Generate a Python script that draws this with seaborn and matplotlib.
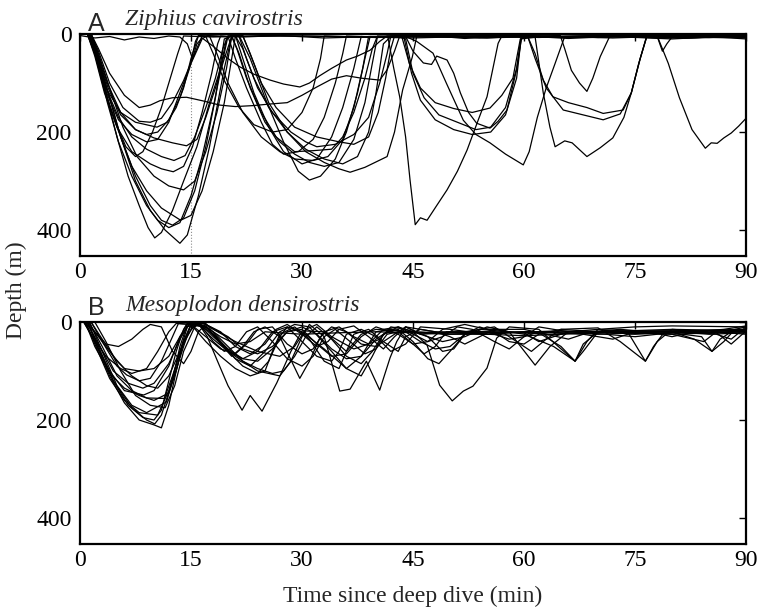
import pandas as pd
import matplotlib
matplotlib.use("Agg")
import matplotlib.pyplot as plt
import seaborn as sns

# Dive profiles: (minutes since deep dive, depth in m)
# --- A: Ziphius cavirostris ---
zc_01 = [(1.3, 0), (2.2, 40), (3.5, 120), (5, 210), (6.5, 290), (8, 350), (9.2, 395), (10.1, 416), (11, 405),
         (12.5, 360), (14, 300), (15.8, 230), (17.5, 140), (18.9, 75), (19.8, 10), (20.5, 2), (21.5, 3), (23, 50),
         (25, 130), (27.5, 220), (29.5, 280), (31, 298), (32.5, 290), (34.5, 255), (36, 200), (37.5, 120),
         (38.5, 50), (39.2, 5), (42, 6), (48, 3), (55, 8), (60, 4), (66, 9), (72, 5), (80, 10), (85, 6), (90, 8)]
zc_02 = [(1.5, 0), (2.5, 50), (4, 130), (5.5, 210), (7.5, 300), (9.5, 360), (11.5, 400), (13.5, 427), (14.5, 410),
         (16, 330), (17.5, 230), (18.5, 150), (19.5, 70), (20.5, 5), (22, 3), (23.5, 60), (25.5, 140), (28, 200),
         (30.5, 240), (33, 262), (35, 275), (36.5, 282), (38.5, 272), (41.5, 250), (42.5, 200), (43.6, 114),
         (44.9, 47), (45.5, 5), (48, 4), (52, 9), (56, 5), (61.5, 6), (62.6, 120), (63.5, 190), (64.2, 230),
         (65.5, 218), (66.5, 222), (68.5, 250), (70.3, 232), (72, 212), (73.5, 170), (74.5, 120), (75.7, 50),
         (76.6, 4), (80, 6), (85, 3), (90, 5)]
zc_03 = [(1.2, 0), (2.3, 50), (3.7, 140), (5.2, 220), (7, 290), (9, 350), (10.5, 380), (12, 395), (13.5, 385),
         (15, 330), (16.5, 250), (18, 150), (19.2, 60), (20, 4), (21, 3), (22, 50), (23.5, 120), (25.5, 190),
         (27.5, 240), (30, 265), (32, 255), (34, 210), (35.5, 150), (37, 70), (38, 5), (40, 7), (43.5, 6),
         (44.5, 60), (46, 110), (48, 140), (50.5, 152), (53, 160), (55.4, 151), (57, 125), (58.5, 90), (59.5, 10),
         (62, 6), (70, 3), (78, 8), (84, 5), (90, 6)]
zc_04 = [(1.4, 0), (2.4, 45), (3.8, 120), (5.5, 210), (7.5, 290), (9.5, 350), (11, 380), (12.5, 390), (14, 375),
         (15.5, 320), (17, 230), (18.3, 130), (19.5, 10), (20.5, 4), (21.5, 40), (23, 110), (25, 180), (27, 220),
         (29, 245), (31, 262), (33, 270), (35, 262), (37, 215), (38.5, 140), (39.5, 60), (40.2, 5), (43, 4),
         (44, 10), (45, 80), (46.5, 130), (48.5, 165), (51, 180), (53.5, 195), (55.5, 190), (57.5, 150), (59, 70),
         (59.6, 8), (60.5, 5), (61.5, 40), (62.6, 94), (63.9, 128), (66, 140), (68.5, 150), (70.7, 162),
         (73.4, 155), (74.5, 120), (75.7, 50), (76.6, 3), (80, 4), (88, 8), (90, 10)]
zc_05 = [(1.0, 0), (2, 40), (3.5, 120), (5, 190), (7, 270), (9, 320), (11, 355), (13.6, 380), (15, 370),
         (16.5, 320), (18, 240), (19.5, 140), (20.5, 50), (21, 4), (22, 30), (23.5, 90), (25.5, 150), (28, 200),
         (30.5, 235), (33, 255), (35.5, 265), (37.5, 250), (39, 200), (40, 120), (41, 20), (42, 5), (43.8, 8),
         (44.8, 80), (46, 135), (48, 175), (50.5, 195), (53, 205), (55.5, 200), (57.5, 165), (59, 90), (59.6, 10),
         (60.5, 5), (61.5, 50), (63, 110), (65.3, 155), (68, 165), (70.7, 175), (73, 163), (74.5, 120),
         (75.5, 60), (76.6, 5), (82, 8), (90, 4)]
zc_06 = [(1.5, 0), (2.5, 40), (4, 110), (5.8, 190), (7.7, 250), (10, 290), (12, 310), (14, 318), (15.5, 300),
         (17, 240), (18.5, 160), (19.8, 70), (20.5, 5), (21.2, 30), (22.5, 90), (24.5, 160), (26.5, 210),
         (29, 240), (31.5, 238), (34, 235), (35.5, 210), (37, 160), (38.5, 90), (39.5, 30), (40.2, 4), (41.6, 6),
         (42.4, 70), (43.2, 128), (44, 210), (44.6, 298), (45.3, 389), (46, 375), (46.9, 380), (48.2, 350),
         (49.6, 318), (51, 280), (52.3, 237), (53.7, 180), (55, 128), (55.8, 70), (56.5, 19), (57, 4), (62, 6),
         (70, 4), (76, 6), (78, 4), (79.5, 60), (81, 130), (82.7, 195), (84.5, 233), (85.3, 222), (86.1, 223),
         (87, 212), (88, 202), (89, 188), (90, 172)]
zc_07 = [(1, 0), (2, 45), (3.3, 120), (5, 190), (7, 240), (9.5, 265), (11, 275), (12.6, 281), (14, 270),
         (15.2, 230), (16.5, 160), (17.8, 80), (18.6, 20), (19, 4), (20, 5), (21, 50), (22.5, 110), (24.5, 180),
         (26, 225), (27.5, 245), (29.5, 240), (31.5, 215), (33, 170), (34.5, 100), (35.5, 40), (36, 4), (40, 6),
         (44, 5), (45, 35), (46.4, 59), (47.5, 62), (48.2, 45), (49.6, 53), (50.5, 80), (51.4, 120), (52.5, 160),
         (53.6, 182), (55.4, 192), (56.5, 178), (57.7, 155), (59, 73), (59.7, 5), (62, 4), (64.9, 3), (65.5, 30),
         (66.4, 74), (67.5, 100), (68.5, 117), (69.3, 90), (70.3, 46), (71.6, 4), (78, 6), (84, 3), (90, 5)]
zc_08 = [(1.2, 0), (2.2, 40), (3.5, 110), (5.2, 170), (7, 210), (9, 235), (11, 250), (12.7, 258), (14.2, 248),
         (15.5, 210), (17, 150), (18.3, 90), (19.3, 30), (20, 4), (21.5, 5), (22.5, 50), (24, 110), (26, 160),
         (28.5, 200), (30.5, 220), (32, 230), (34.5, 225), (37, 205), (39, 170), (40.5, 100), (41.5, 40), (42, 4),
         (44, 5), (45.5, 15), (47.7, 39), (49.5, 100), (51.8, 176), (53.5, 205), (55.4, 222), (57.5, 245),
         (59.9, 267), (60.7, 240), (61.8, 170), (63, 110), (64.2, 60), (65.5, 5), (70, 7), (75, 4), (82, 8), (90, 6)]
zc_09 = [(1.3, 0), (2.3, 35), (3.7, 100), (5.5, 160), (7.5, 195), (10, 212), (12.5, 222), (14.4, 228),
         (15.8, 215), (17, 170), (18.3, 110), (19.5, 50), (20.5, 5), (22, 4), (23, 40), (24.5, 100), (26.5, 150),
         (29, 190), (32, 210), (35, 220), (37, 225), (39, 210), (40.3, 160), (41.3, 90), (42, 30), (42.5, 4),
         (50, 6), (58, 3), (66, 7), (72, 4), (78, 5), (78.7, 35), (79.3, 20), (80, 6), (90, 4)]
zc_10 = [(1, 0), (2, 40), (3.5, 110), (5.5, 160), (7.5, 180), (10.4, 190), (11.8, 180), (13, 150), (14, 110),
         (15, 50), (16, 4), (17, 5), (18, 40), (19.5, 95), (21.5, 150), (23.5, 185), (26, 200), (28, 195),
         (30, 160), (31.5, 110), (32.5, 50), (33, 4), (38, 6), (46, 3), (54, 8), (63, 5), (70, 6), (80, 3), (90, 7)]
zc_11 = [(1.5, 0), (2.5, 35), (4, 100), (5.8, 150), (8, 178), (9.5, 180), (11, 172), (12.5, 140), (14, 95),
         (15.5, 40), (16.5, 4), (19, 5), (22, 6), (27, 3), (33, 8), (40, 5), (45, 3), (52, 7), (60, 4), (67, 6),
         (75, 3), (82, 7), (90, 5)]
zc_12 = [(1.5, 0), (2.5, 30), (4, 80), (6, 125), (8, 150), (9.5, 145), (10.8, 136), (12.5, 130), (14.4, 129),
         (16.5, 136), (18.9, 145), (21, 148), (23.4, 146), (25.5, 143), (28, 140), (30, 125), (32, 108), (34, 92),
         (36, 85), (38, 90), (40.5, 94), (41.5, 73), (42.5, 35), (43.2, 4), (48, 6), (56, 3), (64, 5), (72, 8),
         (80, 4), (90, 6)]
zc_13 = [(1.2, 0), (2.2, 45), (3.6, 120), (5.2, 175), (7, 205), (9, 220), (10.5, 215), (12, 180), (13.5, 120),
         (15, 60), (16.5, 10), (17.2, 3), (20, 5), (30, 4), (40, 7), (50, 3), (60, 6), (70, 4), (80, 8), (90, 5)]
zc_14 = [(1.1, 0), (2, 40), (3.2, 110), (4.8, 180), (6.2, 230), (7.5, 250), (8.5, 240), (9.8, 200), (11, 150),
         (12.2, 90), (13.2, 40), (14, 4), (18, 6), (25, 3), (35, 5), (45, 8), (55, 4), (65, 6), (75, 3), (85, 7),
         (90, 5)]
zc_15 = [(0, 3), (2, 8), (4, 5), (6, 12), (8, 6), (10, 9), (12, 4), (13.5, 6), (14.5, 20), (15.2, 50),
         (15.8, 20), (16.5, 8), (18, 25), (20, 50), (21.6, 67), (23.5, 82), (25.7, 94), (27.5, 102), (29.7, 108),
         (31, 100), (32.4, 85), (34, 70), (36, 53), (37.5, 45), (39.2, 33), (40.5, 15), (41.5, 4), (50, 5),
         (60, 3), (70, 6), (80, 4), (90, 3)]
zc_16 = [(1.3, 0), (2.3, 40), (3.8, 110), (5.5, 165), (7.5, 195), (9, 205), (10.5, 200), (12, 175), (13.5, 130),
         (14.8, 70), (15.6, 15), (16, 3), (17.5, 4), (18.5, 40), (20, 100), (22, 160), (24.5, 210), (27, 240),
         (29, 255), (31.5, 258), (33.5, 250), (35.5, 215), (37, 150), (38.2, 70), (39, 5), (45, 6), (55, 4),
         (62, 7), (70, 3), (80, 6), (90, 4)]

# --- B: Mesoplodon densirostris ---
md_01 = [(0.5, 0), (2, 40), (4, 110), (6, 165), (8, 200), (10, 210), (11, 216), (12, 170), (13, 100), (14, 40),
         (15, 5), (17, 3), (19, 40), (21, 75), (23, 90), (25, 60), (27, 20), (29, 5), (31, 10), (34, 60), (36, 95),
         (38, 70), (40, 20), (42, 15), (44, 20), (50, 22), (55, 25), (60, 20), (70, 20), (80, 18), (90, 15)]
md_02 = [(1, 0), (2.5, 50), (4.5, 120), (7, 175), (9, 200), (10.1, 208), (11, 190), (12.5, 120), (14, 50),
         (15, 5), (16, 3), (17.2, 30), (18.5, 77), (20, 130), (21.9, 180), (23, 150), (24.6, 182), (26.6, 124),
         (28.5, 60), (30, 18), (33, 20), (36, 60), (38, 25), (40, 15), (45, 20), (50, 25), (55, 22), (61, 20),
         (65, 18), (70, 22), (75, 20), (80, 20), (85, 18), (90, 20)]
md_03 = [(0.8, 0), (2, 45), (4, 115), (6, 160), (8, 185), (10.5, 190), (12, 140), (13.5, 60), (14.5, 10),
         (16, 0), (18, 30), (21, 70), (24, 100), (27, 110), (28.5, 80), (30, 30), (31, 5), (33, 30), (35.1, 141),
         (36.5, 137), (38.7, 80), (40.5, 139), (41.9, 73), (42.8, 40), (44, 10), (46, 25), (49, 40), (52, 30),
         (55, 10), (58, 20), (61.5, 88), (63.5, 50), (66, 20), (70, 15), (75, 10), (80, 8), (90, 10)]
md_04 = [(1.2, 0), (3, 50), (5, 110), (7, 140), (9, 155), (11.4, 156), (12.5, 110), (14, 40), (15.5, 5),
         (17, 10), (20, 60), (22, 90), (24, 105), (25.5, 80), (27, 30), (28, 10), (30, 20), (33, 55), (36, 95),
         (38, 110), (39.5, 70), (41, 25), (43, 10), (45, 20), (46.9, 47), (48.6, 129), (50.3, 161), (51.8, 141),
         (53.1, 131), (55, 94), (56.3, 33), (58, 10), (62, 15), (66.9, 80), (68, 60), (70, 20), (74, 20),
         (76.4, 80), (78, 40), (80, 15), (85, 20), (90, 15)]
md_05 = [(0.6, 0), (2, 40), (4, 100), (6, 140), (8.6, 149), (10, 140), (12, 90), (13.5, 30), (14.5, 3), (16, 5),
         (18, 25), (20, 55), (22, 75), (24, 60), (26, 20), (28, 10), (30, 40), (32, 70), (34, 80), (35, 60),
         (36, 25), (38, 15), (40, 30), (42, 60), (44, 45), (46, 10), (50, 15), (55, 25), (60, 28), (65, 25),
         (70, 22), (80, 20), (83, 35), (85.4, 60), (87, 40), (88.5, 15), (90, 10)]
md_06 = [(1.5, 0), (3, 40), (5, 90), (6.3, 108), (8, 120), (9.5, 115), (11, 80), (12.5, 30), (13.3, 3),
         (15, 5), (17, 40), (19, 70), (21, 95), (23, 110), (25, 100), (26, 60), (27, 25), (29, 10), (31, 35),
         (33, 80), (35, 95), (36, 60), (37, 25), (39, 15), (41, 40), (43, 60), (44, 30), (46, 15), (48, 20),
         (50, 30), (52, 45), (54, 30), (56, 15), (60, 25), (64, 50), (66.9, 80), (68.5, 40), (70, 15), (80, 25),
         (84.3, 40), (86, 20), (90, 25)]
md_07 = [(0.5, 0), (2, 20), (3.5, 45), (5.2, 50), (7, 35), (8.5, 15), (9.5, 5), (11, 10), (12.5, 60), (14, 85),
         (15, 60), (16, 20), (17, 5), (19, 20), (21, 50), (23, 65), (25, 45), (26.5, 15), (28, 5), (30, 25),
         (32, 50), (33.5, 40), (35, 15), (37, 8), (39, 30), (41, 55), (42.5, 30), (44, 10), (48, 20), (52, 20),
         (56, 10), (59, 40), (61, 60), (63, 35), (65, 15), (70, 12), (73, 40), (76.4, 80), (77.5, 50), (79, 20),
         (85, 22), (90, 20)]
md_08 = [(1, 0), (2.5, 55), (4.5, 120), (6.5, 170), (8.5, 195), (10, 200), (11, 180), (12, 120), (13, 60),
         (14, 15), (14.5, 3), (16, 5), (18, 35), (20, 60), (22, 75), (24, 80), (26, 55), (28, 20), (30, 10),
         (32, 25), (34, 55), (36, 75), (38, 70), (40, 35), (42, 15), (44, 20), (46, 40), (48, 55), (50, 50),
         (52, 25), (54, 15), (58, 20), (62, 22), (65, 50), (66.9, 80), (68, 45), (70, 20), (75, 25), (80, 22),
         (84, 30), (85.4, 60), (86.5, 35), (88, 20), (90, 15)]
md_09 = [(1.3, 0), (3, 60), (5, 130), (7, 170), (9, 185), (11.7, 163), (12.5, 120), (13.5, 50), (14.5, 5),
         (17, 10), (19, 30), (21, 45), (23, 40), (25, 20), (27, 22), (30, 25), (35, 22), (40, 20), (45, 22),
         (50, 25), (55, 25), (60, 20), (65, 22), (70, 25), (75, 22), (80, 20), (85, 25), (90, 22)]
md_10 = [(0.7, 0), (2, 50), (4, 105), (6, 135), (8, 150), (10, 160), (12, 145), (13, 100), (14, 40), (15, 5),
         (17, 8), (19, 45), (20.5, 70), (22, 50), (23.5, 20), (25, 10), (27, 30), (29.7, 115), (31, 80),
         (32.5, 30), (34, 10), (36, 20), (38, 45), (40, 50), (42, 30), (44, 10), (47, 30), (49, 60), (50.5, 55),
         (52, 25), (54, 10), (56, 20), (58, 40), (60, 45), (62, 25), (65, 15), (70, 20), (80, 25), (90, 20)]
md_11 = [(2, 0), (3.5, 40), (5.5, 100), (7.5, 150), (9.5, 170), (11.5, 175), (12.8, 130), (14, 60), (15.5, 10),
         (16.5, 0), (18, 15), (21, 40), (24, 60), (27, 70), (29, 50), (30.5, 15), (32, 5), (34, 30), (37, 55),
         (39, 45), (41, 15), (43, 10), (45, 25), (47, 40), (49, 30), (51, 10), (53, 15), (56, 40), (58, 55),
         (60, 30), (62, 10), (66, 20), (71, 25), (75, 30), (78, 25), (82, 20), (86, 25), (88, 35), (90, 10)]
md_12 = [(1, 0), (2.5, 30), (4.5, 70), (6, 95), (8, 100), (10, 95), (12, 70), (13.5, 30), (15, 0), (17, 5),
         (20, 30), (22, 55), (24, 65), (26, 50), (28, 20), (30, 15), (32, 45), (34, 70), (36, 65), (38, 30),
         (40, 10), (43, 25), (45, 45), (47, 40), (49, 15), (52, 5), (55, 15), (60, 15), (63, 25), (66, 35),
         (69, 20), (73, 15), (77, 20), (80, 30), (83, 20), (87, 15), (90, 8)]
md_13 = [(1.5, 0), (3, 35), (5, 80), (7, 110), (9, 130), (10.5, 135), (12, 110), (13.5, 60), (15, 15), (16, 3),
         (18, 20), (20, 50), (22, 80), (24, 95), (26, 105), (27.5, 100), (29, 70), (30.5, 30), (32, 10), (34, 35),
         (36, 70), (38, 85), (39.5, 60), (41, 25), (43, 15), (45, 40), (47, 75), (48.5, 85), (50, 60), (52, 25),
         (54, 20), (60, 22), (62, 40), (64, 30), (66, 20), (75, 18), (90, 18)]
md_14 = [(0.9, 0), (2.5, 45), (4.5, 100), (6.5, 125), (8.5, 135), (10, 125), (12, 85), (13.5, 35), (14.8, 3),
         (16.5, 10), (18, 40), (19.5, 60), (21, 50), (22.5, 20), (24, 10), (26, 40), (28, 75), (30, 90),
         (31.5, 70), (33, 30), (34.5, 15), (36.5, 40), (38.5, 65), (40, 55), (41.5, 25), (43, 20), (45, 45),
         (46.5, 65), (48, 50), (49.5, 20), (55, 20), (58, 35), (60, 30), (62, 20), (68, 25), (72, 35), (74, 25),
         (78, 20), (86, 22), (88, 45), (89.5, 25), (90, 20)]
md_15 = [(0.5, 0), (1.5, 25), (3.5, 70), (5.5, 95), (7, 105), (9, 95), (10.5, 60), (12, 20), (13, 3), (15, 5),
         (17, 30), (19, 55), (21, 65), (22.5, 45), (24, 15), (26, 10), (28, 45), (30, 65), (31.5, 55), (33, 20),
         (35, 10), (37, 30), (39, 45), (40.5, 35), (42, 10), (44, 15), (46, 25), (50, 22), (56, 20), (64, 25),
         (70, 20), (80, 15), (90, 18)]

zc_traces = [zc_01, zc_02, zc_03, zc_04, zc_05, zc_06, zc_07, zc_08,
             zc_09, zc_10, zc_11, zc_12, zc_13, zc_14, zc_15, zc_16]
md_traces = [md_01, md_02, md_03, md_04, md_05, md_06, md_07, md_08,
             md_09, md_10, md_11, md_12, md_13, md_14, md_15]

x_ticks = [0, 15, 30, 45, 60, 75, 90]
y_ticks = [0, 200, 400]


def to_frame(traces):
    rows = []
    for i, tr in enumerate(traces):
        for t, d in tr:
            rows.append({"trace": i, "time": t, "depth": d})
    return pd.DataFrame(rows)


df_a = to_frame(zc_traces)
df_b = to_frame(md_traces)

sns.set_theme(style="white")
plt.rcParams["font.family"] = ["Liberation Serif", "DejaVu Serif"]
plt.rcParams["axes.linewidth"] = 1.6

fig = plt.figure(figsize=(7.59, 6.08), dpi=100)
ax_a = fig.add_axes([0.1054, 0.5789, 0.8775, 0.3651])
ax_b = fig.add_axes([0.1054, 0.1053, 0.8775, 0.3651])

ax_a.axvline(15, color="0.55", lw=0.8, ls=":", zorder=0)

for ax, df in [(ax_a, df_a), (ax_b, df_b)]:
    sns.lineplot(data=df, x="time", y="depth", units="trace", estimator=None, sort=False,
                 color="black", lw=0.9, ax=ax, legend=False)
    ax.set_xlim(0, 90)
    ax.set_ylim(453, 0)
    ax.set_xticks(x_ticks)
    ax.set_yticks(y_ticks)
    ax.set_xlabel("")
    ax.set_ylabel("")
    ax.tick_params(direction="in", length=5, width=1.0, top=True, right=True,
                   labelsize=17, color="black", labelcolor="black")
    ax.tick_params(axis="x", pad=4)
    ax.tick_params(axis="y", pad=6)
    for s in ax.spines.values():
        s.set_color("black")
        s.set_linewidth(1.6)

ax_a.text(0.012, 1.012, "A", transform=ax_a.transAxes, family="Liberation Sans",
          fontsize=18, va="baseline", ha="left")
ax_a.text(0.068, 1.04, "Ziphius cavirostris", transform=ax_a.transAxes, style="italic",
          fontsize=17, va="baseline", ha="left")
ax_b.text(0.012, 1.032, "B", transform=ax_b.transAxes, family="Liberation Sans",
          fontsize=18, va="baseline", ha="left")
ax_b.text(0.068, 1.048, "Mesoplodon densirostris", transform=ax_b.transAxes, style="italic",
          fontsize=17, va="baseline", ha="left")

fig.text(0.544, 0.01, "Time since deep dive (min)", ha="center", va="baseline", fontsize=17)
fig.text(0.022, 0.523, "Depth (m)", rotation=90, ha="center", va="center", fontsize=17)

fig.savefig("out.png", dpi=100)
